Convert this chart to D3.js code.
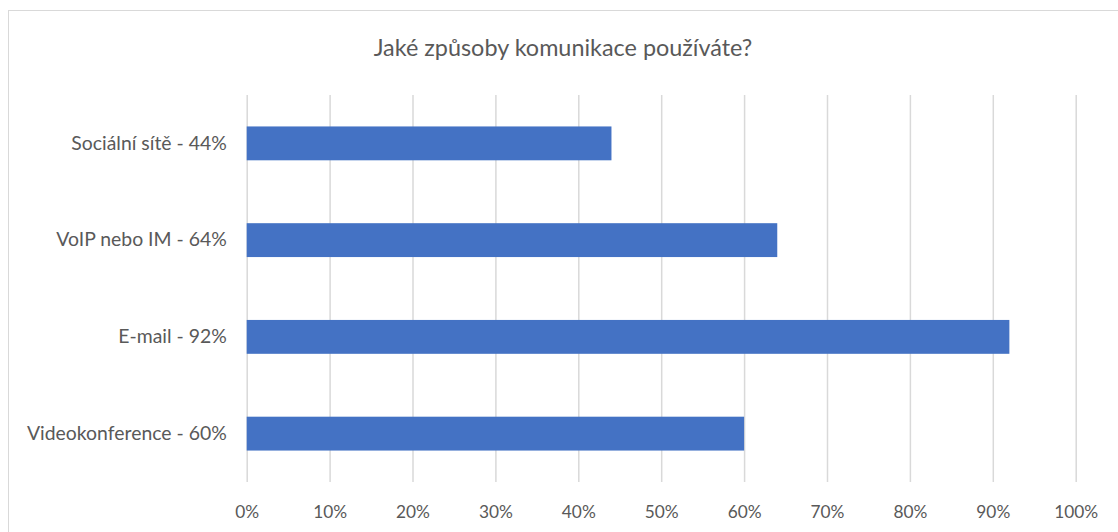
<!DOCTYPE html>
<html><head><meta charset="utf-8">
<script src="https://cdn.jsdelivr.net/npm/d3@7"></script>
<style>body{margin:0;background:#fff}svg{display:block}</style>
</head><body>
<svg id="c" width="1118" height="532"></svg>
<script>
const categories = ["Sociální sítě - 44%", "VoIP nebo IM - 64%", "E-mail - 92%", "Videokonference - 60%"];
const values = [44, 64, 92, 60];
const tickValues = [0,10,20,30,40,50,60,70,80,90,100];
const title = "Jaké způsoby komunikace používáte?";

const svg = d3.select("#c");
const font = "Lato, 'Open Sans', sans-serif";
svg.append("rect").attr("x",8.5).attr("y",10.5).attr("width",1200).attr("height",600)
  .attr("fill","#fff").attr("stroke","#d9d9d9").attr("stroke-width",1);

const x = d3.scaleLinear().domain([0,100]).range([246.7,1075.7]);
const y = d3.scaleBand().domain(categories).range([95,482]).paddingInner(0.65).paddingOuter(0.325);

const grid = svg.append("g").attr("transform","translate(0,482)")
  .call(d3.axisBottom(x).tickValues(tickValues).tickSize(-387).tickFormat(d=>d+"%"));
grid.select(".domain").remove();
grid.selectAll(".tick line").attr("stroke","#d9d9d9").attr("stroke-width",1.5);
grid.selectAll(".tick text").attr("fill","#595959").attr("font-family",font).attr("font-size","17.3px")
  .attr("y",30).attr("dy","0.35em");

svg.append("g").selectAll("rect").data(values).join("rect")
  .attr("x",x(0)).attr("y",(d,i)=>y(categories[i])).attr("width",d=>x(d)-x(0)).attr("height",y.bandwidth())
  .attr("fill","#4472c4");

const ya = svg.append("g").attr("transform","translate(246.7,0)")
  .call(d3.axisLeft(y).tickSize(0).tickPadding(20));
ya.select(".domain").remove();
ya.selectAll(".tick text").attr("fill","#595959").attr("font-family",font).attr("font-size","19.4px");

svg.append("text").attr("x",563).attr("y",47).attr("text-anchor","middle").attr("dominant-baseline","central")
  .attr("fill","#595959").attr("font-family",font).attr("font-size","23.4px").text(title);
</script>
</body></html>
